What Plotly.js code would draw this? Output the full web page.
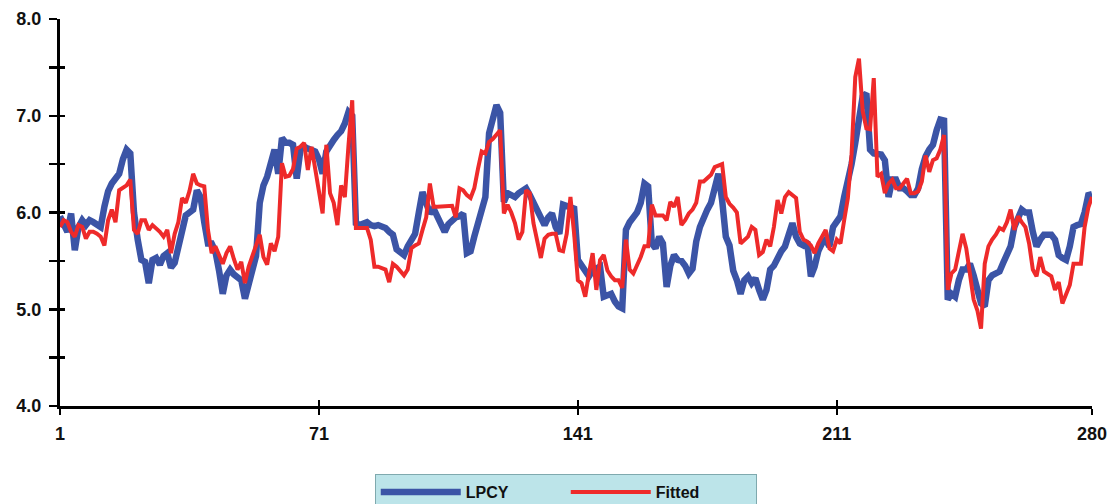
<!DOCTYPE html>
<html>
<head>
<meta charset="utf-8">
<script src="https://cdn.plot.ly/plotly-3.0.1.min.js"></script>
<style>
  html, body { margin: 0; padding: 0; background: #ffffff; }
  #chart { width: 1110px; height: 504px; }
</style>
</head>
<body>
<div id="chart"></div>
<script>
// Observation index 1..280
const obs = Array.from({length: 280}, (_, k) => k + 1);

// Actual series (log per-capita)
const lpcy = [
  5.96, 5.87, 5.80, 5.99, 5.61, 5.85, 5.92, 5.87, 5.92, 5.90,
  5.87, 5.85, 6.06, 6.22, 6.30, 6.34, 6.40, 6.55, 6.65, 6.61,
  6.00, 5.72, 5.51, 5.49, 5.27, 5.51, 5.53, 5.46, 5.55, 5.58,
  5.43, 5.48, 5.65, 5.85, 5.97, 6.00, 6.03, 6.23, 6.16, 5.90,
  5.68, 5.68, 5.60, 5.40, 5.16, 5.35, 5.41, 5.36, 5.33, 5.30,
  5.11, 5.28, 5.45, 5.55, 6.10, 6.28, 6.37, 6.55, 6.65, 6.40,
  6.77, 6.72, 6.72, 6.70, 6.35, 6.65, 6.68, 6.66, 6.65, 6.63,
  6.55, 6.40, 6.63, 6.70, 6.75, 6.80, 6.84, 6.92, 7.04, 7.00,
  5.89, 5.87, 5.88, 5.90, 5.87, 5.86, 5.87, 5.86, 5.84, 5.80,
  5.77, 5.62, 5.58, 5.56, 5.65, 5.72, 5.78, 6.00, 6.21, 6.10,
  5.99, 6.04, 5.95, 5.85, 5.80, 5.88, 5.92, 5.95, 5.96, 5.99,
  5.58, 5.60, 5.75, 5.89, 6.02, 6.16, 6.82, 6.95, 7.11, 7.03,
  6.11, 6.20, 6.17, 6.16, 6.20, 6.22, 6.25, 6.18, 6.10, 6.02,
  5.92, 5.87, 5.95, 5.99, 5.85, 5.78, 6.08, 6.07, 6.06, 6.04,
  5.51, 5.45, 5.40, 5.34, 5.40, 5.42, 5.44, 5.13, 5.15, 5.16,
  5.08, 5.03, 5.01, 5.82, 5.90, 5.96, 6.00, 6.10, 6.30, 6.27,
  5.68, 5.63, 5.75, 5.68, 5.23, 5.45, 5.56, 5.51, 5.50, 5.45,
  5.37, 5.42, 5.70, 5.85, 5.95, 6.03, 6.10, 6.25, 6.40, 6.13,
  5.75, 5.66, 5.40, 5.30, 5.16, 5.30, 5.34, 5.27, 5.32, 5.20,
  5.10, 5.20, 5.41, 5.45, 5.53, 5.60, 5.65, 5.75, 5.89, 5.75,
  5.68, 5.66, 5.70, 5.34, 5.44, 5.60, 5.68, 5.72, 5.65, 5.85,
  5.90, 5.96, 6.16, 6.30, 6.50, 6.72, 6.99, 7.20, 7.23, 6.65,
  6.61, 6.61, 6.60, 6.54, 6.16, 6.34, 6.34, 6.25, 6.25, 6.22,
  6.18, 6.18, 6.25, 6.45, 6.58, 6.65, 6.70, 6.85, 6.96, 6.95,
  5.10, 5.16, 5.13, 5.30, 5.41, 5.41, 5.47, 5.35, 5.20, 5.06,
  5.03, 5.30, 5.35, 5.37, 5.39, 5.48, 5.55, 5.65, 5.85, 5.95,
  6.03, 6.00, 6.00, 5.80, 5.65, 5.72, 5.77, 5.77, 5.77, 5.72,
  5.56, 5.53, 5.51, 5.65, 5.85, 5.87, 5.88, 6.00, 6.18, 6.19
];

// Model fitted values
const fitted = [
  5.85, 5.92, 5.90, 5.80, 5.75, 5.87, 5.85, 5.73, 5.80, 5.80,
  5.78, 5.75, 5.66, 5.92, 6.03, 5.90, 6.23, 6.25, 6.28, 6.34,
  5.82, 5.78, 5.92, 5.92, 5.82, 5.87, 5.84, 5.80, 5.75, 5.82,
  5.58, 5.78, 5.90, 6.15, 6.10, 6.22, 6.40, 6.30, 6.28, 6.27,
  5.82, 5.58, 5.65, 5.55, 5.47, 5.58, 5.65, 5.52, 5.41, 5.49,
  5.27, 5.44, 5.55, 5.65, 5.77, 5.54, 5.46, 5.68, 5.60, 5.75,
  6.51, 6.37, 6.38, 6.45, 6.66, 6.68, 6.72, 6.44, 6.68, 6.45,
  6.20, 5.99, 6.70, 6.20, 6.10, 5.87, 6.28, 6.16, 6.70, 7.16,
  5.84, 5.84, 5.84, 5.84, 5.72, 5.44, 5.44, 5.42, 5.41, 5.28,
  5.47, 5.44, 5.40, 5.35, 5.41, 5.63, 5.66, 5.68, 5.82, 5.95,
  6.30, 6.06, 6.06, 6.06, 6.07, 6.07, 6.07, 5.95, 6.25, 6.23,
  6.18, 6.15, 6.25, 6.45, 6.63, 6.61, 6.73, 6.76, 6.80, 6.85,
  5.99, 6.08, 6.00, 5.89, 5.72, 5.80, 6.23, 6.20, 5.89, 5.72,
  5.53, 5.73, 5.77, 5.78, 5.78, 5.61, 5.60, 5.78, 6.16, 5.78,
  5.30, 5.27, 5.13, 5.37, 5.58, 5.20, 5.51, 5.56, 5.40, 5.34,
  5.30, 5.30, 5.22, 5.72, 5.41, 5.37, 5.45, 5.54, 5.65, 5.65,
  6.08, 5.97, 5.97, 5.97, 5.92, 6.11, 6.06, 6.16, 5.87, 5.92,
  5.99, 6.03, 6.10, 6.32, 6.32, 6.35, 6.39, 6.47, 6.49, 6.50,
  6.16, 6.09, 6.05, 6.00, 5.68, 5.72, 5.75, 5.85, 5.82, 5.56,
  5.59, 5.72, 5.65, 5.85, 6.13, 5.99, 6.16, 6.21, 6.18, 6.15,
  5.80, 5.72, 5.70, 5.66, 5.58, 5.68, 5.75, 5.82, 5.63, 5.60,
  5.72, 5.68, 5.92, 6.15, 6.60, 7.40, 7.59, 7.05, 6.87, 6.86,
  7.39, 6.37, 6.40, 6.20, 6.30, 6.34, 6.25, 6.25, 6.30, 6.35,
  6.20, 6.20, 6.22, 6.32, 6.59, 6.42, 6.54, 6.56, 6.65, 6.80,
  5.20, 5.37, 5.41, 5.60, 5.78, 5.63, 5.34, 5.10, 4.99, 4.80,
  5.47, 5.65, 5.72, 5.77, 5.84, 5.82, 5.90, 6.03, 5.82, 5.96,
  5.90, 5.85, 5.68, 5.41, 5.34, 5.54, 5.39, 5.36, 5.34, 5.20,
  5.28, 5.06, 5.15, 5.25, 5.47, 5.47, 5.47, 5.85, 6.05, 6.16
];

// Axis ticks
const xTickVals = [1, 71, 141, 211, 280];
const xTickText = ['1', '71', '141', '211', '280'];
const yTickVals = [4.0, 4.5, 5.0, 5.5, 6.0, 6.5, 7.0, 7.5, 8.0];
const yTickText = ['4.0', '', '5.0', '', '6.0', '', '7.0', '', '8.0'];

const labelFont = { family: 'Liberation Sans, Arial, sans-serif', size: 18, color: '#111111', weight: 'bold' };

const traces = [
  {
    x: obs, y: lpcy, name: 'LPCY', type: 'scatter', mode: 'lines',
    line: { color: '#3b54a6', width: 6.5 }
  },
  {
    // drawn on the overlay axes (same ranges) so the inward tick halves exist
    x: obs, y: fitted, name: 'Fitted', type: 'scatter', mode: 'lines',
    xaxis: 'x2', yaxis: 'y2',
    line: { color: '#ee2a2a', width: 4 }
  }
];

const layout = {
  width: 1110,
  height: 504,
  margin: { l: 60, r: 18, t: 19, b: 98, autoexpand: false },
  paper_bgcolor: '#ffffff',
  plot_bgcolor: '#ffffff',
  showlegend: true,
  xaxis: {
    range: [1, 280],
    tickvals: xTickVals,
    ticktext: xTickText,
    ticks: 'outside',
    ticklen: 6,
    tickwidth: 2,
    tickcolor: '#000000',
    showline: true,
    linecolor: '#000000',
    linewidth: 2.5,
    showgrid: false,
    zeroline: false,
    tickfont: labelFont,
    ticklabelstandoff: 4
  },
  yaxis: {
    range: [4, 8],
    tickvals: yTickVals,
    ticktext: yTickText,
    ticks: 'outside',
    ticklen: 8,
    tickwidth: 2.5,
    tickcolor: '#000000',
    showline: true,
    linecolor: '#000000',
    linewidth: 3,
    showgrid: false,
    zeroline: false,
    tickfont: labelFont,
    ticklabelstandoff: 4
  },
  // inward halves of the cross-shaped ticks
  xaxis2: {
    overlaying: 'x', anchor: 'y', side: 'bottom',
    range: [1, 280], tickvals: xTickVals,
    ticks: 'inside', ticklen: 6, tickwidth: 2, tickcolor: '#000000',
    showticklabels: false, showline: false, showgrid: false, zeroline: false
  },
  yaxis2: {
    overlaying: 'y', anchor: 'x', side: 'left',
    range: [4, 8], tickvals: yTickVals,
    ticks: 'inside', ticklen: 5, tickwidth: 2.5, tickcolor: '#000000',
    showticklabels: false, showline: false, showgrid: false, zeroline: false
  },
  legend: {
    orientation: 'h',
    x: 0.305, xanchor: 'left',
    y: -0.176, yanchor: 'top',
    bgcolor: '#bce4e9',
    bordercolor: '#7fa9ae',
    borderwidth: 1,
    itemwidth: 80,
    entrywidth: 95,
    font: { family: 'Liberation Sans, Arial, sans-serif', size: 16, color: '#111111', weight: 'bold' }
  }
};

Plotly.newPlot('chart', traces, layout, { displayModeBar: false, staticPlot: true });
</script>
</body>
</html>
